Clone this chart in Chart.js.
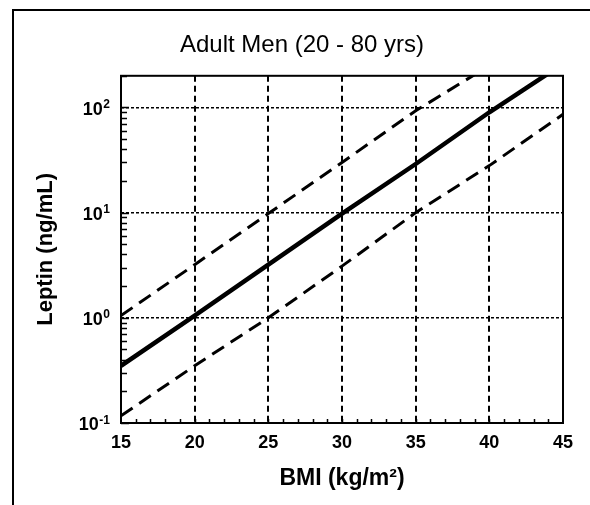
<!DOCTYPE html>
<html>
<head>
<meta charset="utf-8">
<script src="https://cdn.jsdelivr.net/npm/chart.js@4/dist/chart.umd.min.js"></script>
<style>
  html, body { margin: 0; padding: 0; background: #fff; }
  #wrap { position: relative; width: 590px; height: 505px; overflow: hidden; }
  #frame { position: absolute; left: 12px; top: 9px; right: -10px; bottom: -10px;
           border-left: 2px solid #000; border-top: 2px solid #000; }
  canvas { position: absolute; left: 0; top: 0; }
</style>
</head>
<body>
<div id="wrap">
  <div id="frame"></div>
  <canvas id="chart" width="590" height="505"></canvas>
</div>
<script>
// data
const bmi = [15, 20, 25, 30, 35, 40, 45];
const leptinMean = [0.35, 1.05, 3.2, 9.8, 29, 90, 260];
const leptinUpper = [1.05, 3.2, 9.8, 30, 93, 250, 750];
const leptinLower = [0.117, 0.35, 1.0, 3.1, 10, 28, 86];

const xTicks = [15, 20, 25, 30, 35, 40, 45];
const yTicks = [0.1, 1, 10, 100];
const yTickBase = '10';
const yTickExp = ['-1', '0', '1', '2'];

const FONT = '"Liberation Sans", Arial, Helvetica, sans-serif';

function toPoints(ys) {
    return bmi.map((x, i) => ({ x: x, y: ys[i] }));
}

// title centred on the outer frame, not on the canvas
const titleShift = {
    id: 'titleShift',
    afterLayout(chart) {
        chart.titleBlock.left += 14;
        chart.titleBlock.right += 14;
    }
};

// y labels as 10 with a raised exponent
const powerLabels = {
    id: 'powerLabels',
    afterDraw(chart) {
        const { ctx, scales } = chart;
        const right = 110;
        ctx.save();
        ctx.fillStyle = '#000';
        yTicks.forEach((v, i) => {
            const y = scales.y.getPixelForValue(v);
            ctx.font = 'bold 12px ' + FONT;
            const ew = ctx.measureText(yTickExp[i]).width;
            ctx.textAlign = 'right';
            ctx.textBaseline = 'alphabetic';
            ctx.fillText(yTickExp[i], right, y + 0.5);
            ctx.font = 'bold 18px ' + FONT;
            ctx.textBaseline = 'middle';
            ctx.fillText(yTickBase, right - ew - 0.5, y + 2.5);
        });
        ctx.restore();
    }
};

// minor ticks inside the plot + box round the plot area
const plotFrame = {
    id: 'plotFrame',
    afterDatasetsDraw(chart) {
        const { ctx, chartArea: a, scales } = chart;
        ctx.save();
        ctx.strokeStyle = '#000';
        ctx.lineWidth = 1.5;
        ctx.beginPath();
        // y minor ticks, 2..9 per decade
        for (let d = -1; d <= 2; d++) {
            for (let k = 1; k <= 9; k++) {
                const v = k * Math.pow(10, d);
                if (v < 0.1 || v > 200) continue;
                const y = Math.round(scales.y.getPixelForValue(v)) + 0.5;
                const len = k === 1 ? 8 : 6;
                ctx.moveTo(a.left, y);
                ctx.lineTo(a.left + len, y);
            }
        }
        // x minor ticks, every unit
        for (let v = 16; v < 45; v++) {
            const x = Math.round(scales.x.getPixelForValue(v)) + 0.5;
            ctx.moveTo(x, a.bottom);
            ctx.lineTo(x, a.bottom - 4);
        }
        ctx.stroke();
        ctx.lineWidth = 2;
        ctx.strokeRect(a.left, a.top, a.right - a.left, a.bottom - a.top);
        ctx.restore();
    }
};

new Chart(document.getElementById('chart'), {
    type: 'line',
    data: {
        datasets: [
            { data: toPoints(leptinMean), borderColor: '#000', borderWidth: 4.5 },
            { data: toPoints(leptinUpper), borderColor: '#000', borderWidth: 3, borderDash: [14, 8] },
            { data: toPoints(leptinLower), borderColor: '#000', borderWidth: 3, borderDash: [14, 8] }
        ]
    },
    options: {
        responsive: false,
        animation: false,
        events: [],
        layout: { padding: { left: 13, right: 27, top: 0, bottom: 0 } },
        elements: { point: { radius: 0 }, line: { tension: 0, fill: false } },
        plugins: {
            legend: { display: false },
            tooltip: { enabled: false },
            title: {
                display: true,
                text: 'Adult Men (20 - 80 yrs)',
                color: '#000',
                font: { family: FONT, size: 24, weight: 'normal' },
                padding: { top: 31, bottom: 16 }
            }
        },
        scales: {
            x: {
                type: 'linear',
                min: 15,
                max: 45,
                afterBuildTicks: s => { s.ticks = xTicks.map(v => ({ value: v })); },
                afterFit: s => { s.height = 82; },
                ticks: {
                    color: '#000',
                    padding: 9,
                    maxRotation: 0,
                    font: { family: FONT, size: 18, weight: 'bold' }
                },
                grid: {
                    drawTicks: false,
                    lineWidth: 2,
                    color: c => (c.tick && (c.tick.value === 15 || c.tick.value === 45)) ? 'rgba(0,0,0,0)' : '#000'
                },
                border: { display: false, dash: [6, 4] },
                title: {
                    display: true,
                    text: 'BMI (kg/m\u00B2)',
                    color: '#000',
                    font: { family: FONT, size: 23, weight: 'bold' },
                    padding: { top: 0, bottom: 13 }
                }
            },
            y: {
                type: 'logarithmic',
                min: 0.1,
                max: 200,
                afterBuildTicks: s => { s.ticks = yTicks.map(v => ({ value: v })); },
                afterFit: s => { s.width = 108; },
                ticks: { display: false },
                grid: {
                    drawTicks: false,
                    lineWidth: 1.5,
                    color: c => (c.tick && c.tick.value === 0.1) ? 'rgba(0,0,0,0)' : '#000'
                },
                border: { display: false, dash: [3, 2] },
                title: {
                    display: true,
                    text: 'Leptin (ng/mL)',
                    color: '#000',
                    font: { family: FONT, size: 22, weight: 'bold' },
                    padding: { top: 20, bottom: 0 }
                }
            }
        }
    },
    plugins: [titleShift, plotFrame, powerLabels]
});
</script>
</body>
</html>
